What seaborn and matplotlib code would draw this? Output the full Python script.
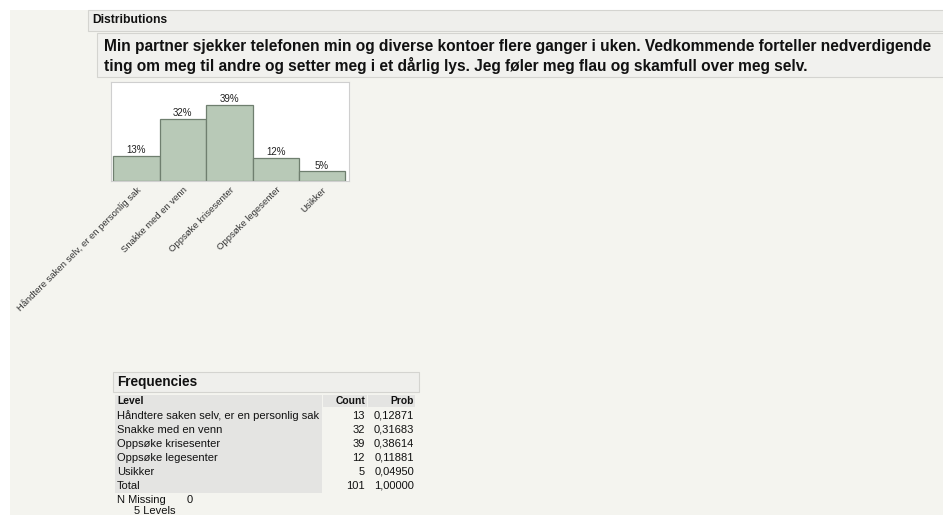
import matplotlib
matplotlib.use("Agg")
import matplotlib.pyplot as plt
from matplotlib.patches import Rectangle
import seaborn as sns
import pandas as pd

levels = ["Håndtere saken selv, er en personlig sak", "Snakke med en venn",
          "Oppsøke krisesenter", "Oppsøke legesenter", "Usikker"]
counts = [13, 32, 39, 12, 5]
probs = [0.12871, 0.31683, 0.38614, 0.11881, 0.04950]
pct_labels = ["13%", "32%", "39%", "12%", "5%"]
total_count = 101
total_prob = "1,00000"
n_missing = 0

title_lines = ["Min partner sjekker telefonen min og diverse kontoer flere ganger i uken. Vedkommende forteller nedverdigende",
               "ting om meg til andre og setter meg i et dårlig lys. Jeg føler meg flau og skamfull over meg selv."]

W, H = 943, 515
BG = "#f4f4ef"
BAR = "#b8c9b7"
EDGE = "#6f7f6f"

sns.set_theme(style="white")
plt.rcParams['font.family'] = ['Liberation Sans', 'DejaVu Sans']

fig = plt.figure(figsize=(W / 100, H / 100), dpi=100)
fig.patch.set_facecolor("white")


def fx(x):
    return x / W


def fy(y):
    return 1 - y / H


def box(x0, y0, x1, y1, fc, ec=None, lw=0.8):
    fig.patches.append(Rectangle((fx(x0), fy(y1)), fx(x1) - fx(x0), fy(y0) - fy(y1),
                                 transform=fig.transFigure, facecolor=fc,
                                 edgecolor=ec if ec else "none", linewidth=lw, zorder=-5))


def txt(x, y, s, size=8, weight="normal", ha="left"):
    fig.text(fx(x), fy(y), s, fontsize=size, fontweight=weight, ha=ha, va="center", color="#111111")


# report background
box(10, 10, W + 30, H + 30, BG)
box(88, 10, W + 30, 31, "#efefec", "#d4d4d0")
txt(92, 20, "Distributions", size=8.7, weight="bold")
box(97, 33, W + 30, 77, "#f1f1ee", "#d4d4d0")
txt(104, 47, title_lines[0], size=11.2, weight="bold")
txt(104, 66, title_lines[1], size=11.2, weight="bold")

# bar chart
ax = fig.add_axes([fx(111), fy(181), fx(349) - fx(111), fy(82) - fy(181)])
ax.set_zorder(2)
df = pd.DataFrame({"level": levels, "prob": probs})
sns.barplot(data=df, x="level", y="prob", color=BAR, edgecolor=EDGE, linewidth=0.9,
            width=1.0, saturation=1, ax=ax)
ax.bar_label(ax.containers[0], labels=pct_labels, fontsize=7, padding=0.5, color="#222222")
ax.set_ylim(0, 0.503)
ax.set_xlim(-0.55, 4.58)
ax.set_yticks([])
ax.set_xlabel("")
ax.set_ylabel("")
ax.set_facecolor("white")
for s in ax.spines.values():
    s.set_color("#cfcfcf")
    s.set_linewidth(0.8)
ax.set_xticks(range(len(levels)))
ax.set_xticklabels(levels, rotation=45, ha="right", rotation_mode="anchor", fontsize=6.8, color="#333333")
ax.tick_params(axis="x", length=0, pad=3)

# frequencies table
box(113, 372, 419, 392, "#efefec", "#d4d4d0")
txt(117, 382, "Frequencies", size=9.8, weight="bold")
box(115, 395, 322, 493, "#e4e4e2")
box(323, 395, 367, 407, "#e4e4e2")
box(368, 395, 415, 407, "#e4e4e2")
txt(117, 401, "Level", size=7.4, weight="bold")
txt(365, 401, "Count", size=7.4, weight="bold", ha="right")
txt(414, 401, "Prob", size=7.4, weight="bold", ha="right")
rows = list(zip(levels, counts, [f"{p:.5f}".replace(".", ",") for p in probs]))
rows.append(("Total", total_count, total_prob))
for i, (lv, c, p) in enumerate(rows):
    y = 416 + i * 14
    txt(117, y, lv, size=8)
    txt(365, y, str(c), size=8, ha="right")
    txt(414, y, p, size=8, ha="right")
txt(117, 500, "N Missing", size=8)
txt(187, 500, str(n_missing), size=8)
txt(134, 511, f"{len(levels)} Levels", size=8)

fig.savefig("out.png", dpi=100, facecolor=fig.get_facecolor())
